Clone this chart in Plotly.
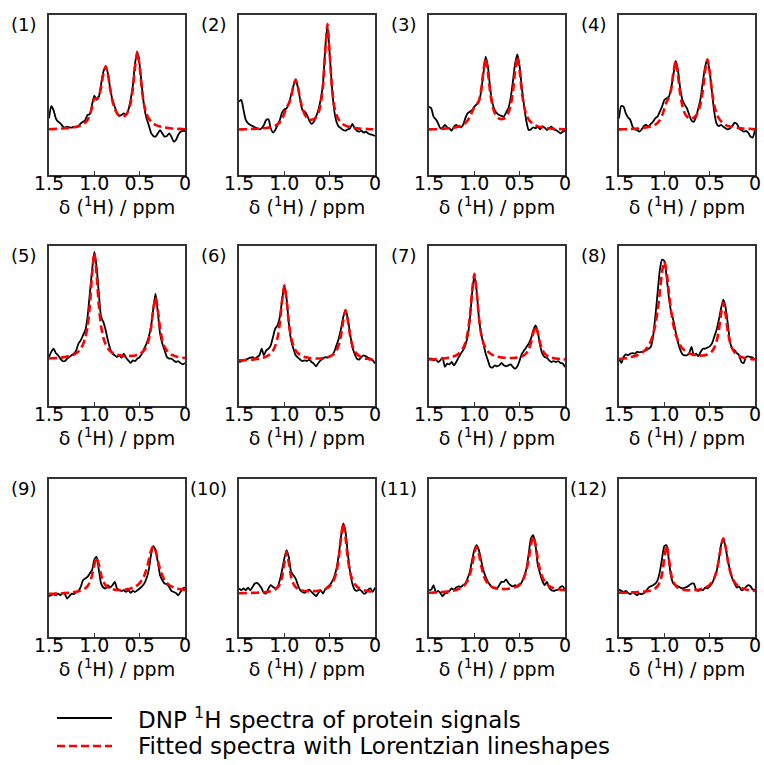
import plotly.graph_objects as go

# chemical shift sampling (ppm), shared by all panels
ppm = [1.5, 1.475, 1.45, 1.425, 1.4, 1.375, 1.35, 1.325, 1.3, 1.275,
       1.25, 1.225, 1.2, 1.175, 1.15, 1.125, 1.1, 1.075, 1.05, 1.025,
       1.0, 0.975, 0.95, 0.925, 0.9, 0.875, 0.85, 0.825, 0.8, 0.775,
       0.75, 0.725, 0.7, 0.675, 0.65, 0.625, 0.6, 0.575, 0.55, 0.525,
       0.5, 0.475, 0.45, 0.425, 0.4, 0.375, 0.35, 0.325, 0.3, 0.275,
       0.25, 0.225, 0.2, 0.175, 0.15, 0.125, 0.1, 0.075, 0.05, 0.025, 0.0]

tick_vals = [1.5, 1.0, 0.5, 0.0]
tick_text = ["1.5", "1.0", "0.5", "0"]
panel_labels = ["(1)", "(2)", "(3)", "(4)", "(5)", "(6)", "(7)", "(8)", "(9)", "(10)", "(11)", "(12)"]
legend_labels = ["DNP <sup>1</sup>H spectra of protein signals", "Fitted spectra with Lorentzian lineshapes"]
x_title = "δ (<sup>1</sup>H) / ppm"

# experimental spectra (normalised intensity, % of panel height)
exp1 = [35.4, 43, 40.6, 35.4, 33.3, 32.3, 30.6, 29.6, 30.2, 29.8,
        29.6, 30.2, 29.8, 30.6, 32.3, 33.3, 34.4, 37.5, 38, 44,
        49.6, 47, 49, 57, 64.6, 67.7, 63.5, 54, 47, 42.7,
        38.5, 36.9, 37.5, 38.5, 37.5, 40.6, 47, 56, 70, 77,
        68.8, 55, 42.7, 35.4, 31.3, 26.5, 24.4, 24, 26, 28,
        26, 24, 24.4, 26, 24, 20.8, 21.9, 25, 27, 27.5, 27.5]
fit1 = [28.6, 28.7, 28.7, 28.8, 28.9, 29.0, 29.1, 29.2, 29.3, 29.4,
        29.6, 29.8, 30.1, 30.5, 31.0, 31.8, 32.8, 34.4, 37.3, 42.4,
        47.6, 47.8, 49.3, 55.0, 63.3, 68.0, 62.8, 53.7, 46.2, 41.5,
        38.6, 37.0, 36.4, 36.6, 37.6, 40.1, 44.9, 53.8, 68.0, 77.3,
        67.6, 53.0, 43.7, 38.4, 35.3, 33.4, 32.2, 31.3, 30.7, 30.3,
        29.9, 29.7, 29.5, 29.3, 29.1, 29.0, 28.9, 28.8, 28.8, 28.7, 28.6]

exp2 = [45.8, 46.9, 40.6, 34.4, 32.3, 31.3, 30.6, 29.8, 29.2, 28.5,
        29.2, 31.3, 34.4, 34.8, 29.2, 26.5, 28.1, 31.3, 34.4, 39,
        41, 41.7, 44.8, 50, 55.6, 59.4, 54.7, 46.9, 40.6, 39.6,
        37.5, 34, 31.9, 33.3, 36.5, 40.6, 46.9, 56.3, 78, 93.8,
        76, 55.2, 40.6, 33.3, 30.2, 29.2, 28.1, 27.7, 28.5, 29.2,
        31.9, 29.2, 27.7, 27.1, 27.7, 26.5, 27.1, 26, 25.4, 25, 24.4]
fit2 = [28.4, 28.5, 28.5, 28.6, 28.6, 28.7, 28.8, 28.8, 28.9, 29.0,
        29.1, 29.3, 29.4, 29.6, 29.9, 30.3, 30.9, 31.7, 32.9, 34.8,
        38.5, 42.4, 44.6, 48.7, 55.6, 59.7, 55.1, 47.3, 41.4, 37.7,
        35.9, 34.8, 34.5, 34.9, 36.2, 38.7, 44.0, 54.8, 76.1, 94.4,
        75.8, 54.3, 43.2, 37.5, 34.6, 32.7, 31.6, 30.9, 30.3, 29.9,
        29.6, 29.4, 29.2, 29.0, 28.9, 28.8, 28.8, 28.7, 28.6, 28.6, 28.5]

exp3 = [42.7, 41.7, 36.5, 34.8, 32.3, 29.2, 29.6, 31.3, 29.8, 29.2,
        27.7, 30.2, 31.3, 30.2, 29.8, 31.3, 35.4, 38.5, 39.6, 40.6,
        42.7, 44.2, 45.8, 52.1, 63.5, 74, 67.7, 54.2, 44.8, 40.6,
        38.5, 37.5, 36.9, 36.5, 39, 41.7, 47.9, 58.3, 69.8, 75.4,
        67.7, 54.2, 42.7, 33.3, 28.1, 28.5, 29.8, 29.2, 30.2, 28.5,
        30.6, 29.6, 28.1, 29.2, 30.2, 28.5, 28.1, 27.1, 26, 27.1, 27.7]
fit3 = [28.5, 28.5, 28.6, 28.6, 28.7, 28.8, 28.9, 29.0, 29.1, 29.2,
        29.4, 29.6, 29.9, 30.3, 30.8, 31.5, 32.4, 34.0, 36.3, 39.5,
        42.4, 43.9, 46.4, 53.1, 64.9, 72.9, 64.1, 51.4, 43.2, 38.8,
        36.4, 35.2, 34.9, 35.3, 36.4, 38.8, 43.3, 51.8, 65.1, 74.0,
        64.9, 51.3, 42.5, 37.6, 34.7, 33.0, 31.8, 31.0, 30.4, 30.0,
        29.7, 29.5, 29.3, 29.1, 29.0, 28.9, 28.8, 28.7, 28.7, 28.6, 28.5]

exp4 = [35.4, 43.1, 42.7, 38.5, 36, 34.4, 30.2, 28.5, 28.1, 27.1,
        28.5, 30.6, 31.3, 30.2, 31.9, 33.3, 35.4, 36.5, 39.6, 42.7,
        46.9, 47.9, 49, 54.2, 62.5, 71.3, 65.6, 54.2, 46.9, 43.8,
        41.7, 37.5, 34, 33.3, 36.5, 41.7, 47.9, 58.3, 67.7, 72.3,
        64.6, 52.1, 39.6, 32.3, 30.6, 31.3, 30.2, 29.2, 28.5, 29.2,
        30.6, 32.7, 31.9, 29.2, 28.1, 27.1, 27.5, 26.5, 24, 23.5, 28.1]
fit4 = [28.5, 28.5, 28.6, 28.6, 28.7, 28.8, 28.8, 28.9, 29.0, 29.1,
        29.3, 29.5, 29.7, 30.0, 30.3, 30.8, 31.5, 32.6, 34.4, 37.1,
        41.4, 45.7, 48.4, 53.6, 64.1, 71.3, 62.8, 50.6, 42.9, 38.6,
        36.4, 35.5, 35.3, 35.9, 37.1, 39.8, 44.6, 52.9, 65.1, 72.3,
        64.8, 52.4, 43.7, 38.6, 35.5, 33.6, 32.3, 31.4, 30.7, 30.3,
        30.0, 29.7, 29.5, 29.3, 29.2, 29.0, 28.9, 28.9, 28.8, 28.7, 28.6]

exp5 = [30.6, 33.8, 35.8, 33.1, 31.7, 29.6, 28.1, 28.1, 29.6, 30.6,
        31.7, 32.7, 34.8, 39, 41, 44.2, 47.3, 55.6, 70.2, 84.8,
        96.3, 86.9, 70.2, 55.6, 52.5, 47.3, 41, 35.8, 32.7, 31.7,
        30.6, 31.7, 30.2, 32.7, 30.2, 28.5, 26.9, 28.5, 28.1, 29.6,
        30.6, 32.7, 35.8, 39, 43.1, 49.4, 60.8, 70.2, 58.8, 45.2,
        39, 34.8, 30.6, 29.6, 29.6, 28.5, 27.5, 28.1, 26.9, 26, 26.9]
fit5 = [29.7, 29.8, 29.9, 30.0, 30.1, 30.2, 30.4, 30.6, 30.9, 31.3,
        31.7, 32.2, 33.0, 34.1, 35.8, 38.4, 42.5, 49.6, 62.4, 82.3,
        95.6, 82.3, 62.5, 49.7, 42.6, 38.5, 36.0, 34.4, 33.3, 32.6,
        32.1, 31.7, 31.5, 31.3, 31.2, 31.2, 31.3, 31.4, 31.6, 32.0,
        32.6, 33.5, 34.9, 37.2, 41.4, 48.8, 60.4, 68.1, 60.3, 48.7,
        41.2, 37.0, 34.6, 33.1, 32.1, 31.5, 31.0, 30.7, 30.4, 30.2, 30.0]

exp6 = [27.5, 27.9, 28.5, 29, 29.6, 30.2, 30.6, 29.6, 30.6, 31.7,
        35.8, 31.7, 34.8, 35.8, 37.9, 43.1, 48.3, 50.4, 55.6, 66,
        75.4, 67.1, 51.5, 41, 35.8, 31.7, 30.2, 29, 28.1, 28.5,
        28.1, 29, 27.5, 26.5, 24.8, 26.9, 28.5, 29.6, 30.6, 30.2,
        31, 31.7, 33.8, 37.9, 42.1, 48.3, 55.6, 60.2, 54.6, 45.2,
        36.9, 32.7, 29.6, 29, 30.6, 31.7, 31, 30.2, 29.6, 28.5, 26.5]
fit6 = [28.5, 28.5, 28.6, 28.7, 28.8, 28.9, 29.0, 29.2, 29.4, 29.6,
        29.9, 30.3, 30.9, 31.7, 32.8, 34.6, 37.6, 42.6, 51.7, 65.9,
        75.4, 66.0, 51.8, 42.7, 37.7, 34.7, 33.0, 31.9, 31.1, 30.6,
        30.3, 30.0, 29.8, 29.7, 29.7, 29.7, 29.7, 29.9, 30.1, 30.4,
        30.9, 31.6, 32.7, 34.7, 38.0, 44.1, 53.5, 59.8, 53.4, 44.0,
        37.9, 34.5, 32.5, 31.3, 30.5, 30.0, 29.6, 29.4, 29.1, 29.0, 28.8]

exp7 = [29.6, 29.6, 28.5, 29, 27.5, 28.5, 30.2, 24.4, 26.5, 26,
        27.5, 25.4, 27.5, 30.2, 32.7, 34.8, 37.9, 43.1, 53.5, 70.2,
        81.7, 72.3, 55.6, 45.2, 39, 32.7, 28.5, 24.4, 24, 25.4,
        24.8, 25.4, 26.9, 25.4, 24.8, 25.4, 26, 24.4, 23.3, 24.8,
        28.5, 32.7, 34.8, 36.9, 39, 42.1, 47.3, 50.4, 46.3, 37.9,
        32.7, 30.6, 30.2, 28.5, 27.5, 28.1, 27.5, 28.1, 26.9, 26.5, 24.4]
fit7 = [29.1, 29.1, 29.2, 29.3, 29.4, 29.5, 29.6, 29.8, 30.0, 30.3,
        30.6, 31.1, 31.7, 32.7, 34.0, 36.0, 39.4, 45.2, 55.6, 71.8,
        82.6, 71.8, 55.6, 45.2, 39.4, 36.1, 34.1, 32.8, 31.9, 31.3,
        30.9, 30.6, 30.3, 30.2, 30.1, 30.0, 30.0, 30.0, 30.2, 30.3,
        30.6, 31.1, 31.8, 33.1, 35.4, 39.4, 45.6, 49.8, 45.6, 39.3,
        35.2, 32.9, 31.6, 30.8, 30.3, 29.9, 29.7, 29.5, 29.3, 29.2, 29.1]

exp8 = [29.6, 26.9, 30.6, 32.3, 31.7, 32.7, 33.1, 32.7, 33.8, 33.5,
        33.8, 34.2, 34.8, 35.8, 36.9, 43.1, 55.6, 70.2, 84.8, 91.5,
        90.6, 80.6, 68.1, 58.8, 53.5, 46.3, 40, 35.2, 32.3, 31.7,
        31.7, 33.1, 36.9, 31.7, 32.7, 31, 33.8, 35.8, 35.8, 36.5,
        37.3, 39, 43.1, 47.3, 53.5, 60.8, 66.5, 61.9, 51.5, 40,
        35.8, 34.8, 33.1, 31.7, 27.5, 26.9, 30.6, 31, 30.6, 30.2, 29]
fit8 = [29.4, 29.5, 29.7, 29.9, 30.2, 30.5, 30.8, 31.2, 31.7, 32.4,
        33.2, 34.3, 35.7, 37.7, 40.5, 44.5, 50.4, 59.2, 71.0, 83.9,
        90.1, 83.9, 71.0, 59.3, 50.6, 44.7, 40.8, 38.0, 36.0, 34.7,
        33.7, 32.9, 32.4, 32.0, 31.7, 31.5, 31.5, 31.6, 31.8, 32.2,
        32.9, 34.2, 36.3, 40.0, 46.8, 57.5, 64.5, 57.4, 46.6, 39.7,
        35.8, 33.5, 32.1, 31.2, 30.6, 30.1, 29.8, 29.5, 29.4, 29.2, 29.1]

exp9 = [25.8, 26.4, 27.1, 26.4, 27.5, 26.4, 27.9, 27.1, 24.3, 25.8,
        27.5, 27.1, 28.5, 29.2, 31.7, 35.9, 37, 38, 40.2, 42.3,
        49, 50.7, 42.3, 33.8, 31.3, 30.7, 32.8, 31.3, 32.8, 34.9,
        30.7, 29.6, 29.2, 29.6, 28.5, 29.6, 27.9, 29.2, 28.5, 29.6,
        30.7, 32.1, 33.8, 37, 42.3, 51.8, 57.5, 55, 47.6, 39.1,
        35.9, 33.8, 33.4, 31.7, 29.2, 28.5, 27.9, 26.4, 28.5, 30.7, 31.3]
fit9 = [27.3, 27.35, 27.4, 27.5, 27.6, 27.65, 27.7, 27.8, 27.9, 28.0,
        28.2, 28.4, 28.6, 28.9, 29.3, 29.9, 30.8, 32.2, 34.7, 39.0,
        45.7, 50.2, 45.8, 39.2, 35.0, 32.7, 31.4, 30.6, 30.2, 29.9,
        29.8, 29.8, 29.8, 29.9, 30.1, 30.3, 30.7, 31.2, 31.9, 32.8,
        34.1, 36.0, 38.8, 42.9, 48.5, 54.6, 57.5, 54.6, 48.5, 42.9,
        38.9, 36.1, 34.2, 32.9, 32.0, 31.4, 30.9, 30.5, 30.2, 30.0, 29.8]

exp10 = [30.7, 29.6, 30.7, 29.6, 31.3, 29.6, 31.7, 33.8, 34.2, 32.8,
         30.7, 27.9, 27.5, 30.7, 32.8, 31.7, 30.7, 31.7, 35.9, 42.3,
         49.7, 55, 50.3, 41.2, 39.1, 37, 32.8, 29.6, 28.5, 27.9,
         29.2, 30, 28.5, 27.1, 25.8, 27.9, 29.6, 27.5, 30, 31.7,
         32.8, 34.9, 38.1, 43.3, 51.8, 63.4, 71.9, 66.6, 52.9, 41.2,
         33.8, 30, 29.2, 30, 29.2, 27.5, 27.9, 30, 30.7, 28.5, 31.3]
fit10 = [27.7, 27.7, 27.8, 27.8, 27.8, 27.9, 27.9, 28.0, 28.0, 28.1,
         28.2, 28.3, 28.5, 28.7, 29.0, 29.4, 30.1, 31.3, 33.5, 37.9,
         46.6, 53.9, 46.6, 38.0, 33.7, 31.5, 30.4, 29.7, 29.4, 29.1,
         29.0, 28.9, 28.9, 29.0, 29.1, 29.3, 29.5, 29.8, 30.3, 31.1,
         32.1, 33.8, 36.5, 41.2, 49.8, 63.0, 71.9, 63.0, 49.7, 41.2,
         36.4, 33.7, 32.0, 30.9, 30.2, 29.6, 29.3, 29.0, 28.8, 28.6, 28.4]

exp11 = [29.6, 30, 32.8, 28.5, 29.2, 27.9, 25.8, 27.5, 27.9, 29.2,
         30.7, 30, 31.3, 32.1, 31.7, 32.8, 33.8, 37, 41.2, 48.6,
         55, 58.1, 55, 48.6, 42.3, 38.1, 34.9, 32.8, 31.3, 30.7,
         30.7, 32.8, 34.9, 34.9, 36.4, 34.2, 32.8, 32.1, 32.8, 31.7,
         32.8, 34.9, 38.5, 43.3, 52.9, 62.4, 64.5, 58.1, 45.5, 40.2,
         35.5, 32.8, 34.9, 31.3, 29.6, 29.2, 29.6, 30, 31.7, 32.1, 29.6]
fit11 = [28.0, 28.05, 28.1, 28.2, 28.3, 28.4, 28.5, 28.6, 28.7, 28.9,
         29.1, 29.4, 29.8, 30.3, 31.0, 32.0, 33.4, 35.7, 39.3, 45.2,
         52.7, 57.1, 52.8, 45.3, 39.6, 36.0, 33.8, 32.5, 31.6, 31.1,
         30.7, 30.5, 30.4, 30.3, 30.4, 30.5, 30.7, 31.1, 31.6, 32.4,
         33.5, 35.2, 37.9, 42.3, 49.3, 58.6, 63.8, 58.6, 49.3, 42.3,
         37.9, 35.1, 33.4, 32.3, 31.5, 30.9, 30.5, 30.2, 29.9, 29.8, 29.6]

exp12 = [30, 29.2, 28.5, 29.2, 27.9, 27.1, 28.5, 27.5, 26.4, 27.5,
         27.1, 27.9, 29.2, 31.3, 32.1, 32.8, 33.8, 35.9, 41.2, 49.7,
         57.5, 58.1, 48.6, 38.1, 33.8, 32.8, 32.1, 31.3, 30.7, 31.3,
         31.7, 32.8, 33.8, 33.8, 30, 29.2, 30, 29.6, 31.3, 30.7,
         32.1, 33.8, 37, 41.2, 48.6, 58.1, 62.4, 57.1, 48.6, 42.3,
         37, 33.8, 31.3, 32.1, 29.6, 30, 31.7, 32.8, 32.1, 30, 30]
fit12 = [28.0, 28.0, 28.0, 28.05, 28.1, 28.15, 28.2, 28.3, 28.4, 28.5,
         28.6, 28.7, 28.9, 29.1, 29.5, 30.0, 30.8, 32.2, 34.7, 39.8,
         49.7, 58.1, 49.7, 39.9, 34.9, 32.5, 31.2, 30.4, 30.0, 29.8,
         29.6, 29.6, 29.6, 29.6, 29.8, 29.9, 30.2, 30.6, 31.1, 31.9,
         33.0, 34.6, 37.3, 41.5, 48.4, 57.3, 62.4, 57.3, 48.4, 41.5,
         37.3, 34.6, 32.9, 31.8, 31.0, 30.5, 30.1, 29.8, 29.6, 29.4, 29.2]

exp_series = [exp1, exp2, exp3, exp4, exp5, exp6, exp7, exp8, exp9, exp10, exp11, exp12]
fit_series = [fit1, fit2, fit3, fit4, fit5, fit6, fit7, fit8, fit9, fit10, fit11, fit12]

# ---------------- layout geometry (pixels) ----------------
W, H = 764, 765
col_left = [49, 239, 429, 619]
col_w = 136
row_top = [15, 246, 479]
row_bot = [175, 406, 637]

FONT = "DejaVu Sans, Verdana, sans-serif"
FS_TICK = 19
FS_TITLE = 19
FS_LABEL = 18
FS_LEG = 23
FRAME = "#333333"

fig = go.Figure()
layout = dict(
    width=W, height=H,
    margin=dict(l=0, r=0, t=0, b=0, pad=0, autoexpand=False),
    paper_bgcolor="white", plot_bgcolor="white", showlegend=False,
    font=dict(family=FONT, size=FS_TICK, color="black"),
)
annotations = []
shapes = []

for k in range(12):
    r, c = divmod(k, 4)
    xa = "xaxis" if k == 0 else f"xaxis{k+1}"
    ya = "yaxis" if k == 0 else f"yaxis{k+1}"
    xr = "x" if k == 0 else f"x{k+1}"
    yr = "y" if k == 0 else f"y{k+1}"
    x0 = col_left[c] / W
    x1 = (col_left[c] + col_w) / W
    y0 = 1 - row_bot[r] / H
    y1 = 1 - row_top[r] / H
    layout[xa] = dict(
        domain=[x0, x1], anchor=yr, range=[1.5, 0], autorange=False,
        tickvals=tick_vals, ticktext=tick_text, ticks="inside", ticklen=4,
        tickwidth=1.3, tickcolor=FRAME, showline=True, mirror=True,
        linecolor=FRAME, linewidth=1.6, showgrid=False, zeroline=False,
        automargin=False, ticklabelstandoff=-9,
        tickfont=dict(family=FONT, size=FS_TICK, color="black"),
        title=dict(text=x_title, font=dict(family=FONT, size=FS_TITLE, color="black"), standoff=0),
    )
    layout[ya] = dict(
        domain=[y0, y1], anchor=xr, range=[0, 100], autorange=False,
        showticklabels=False, ticks="", showline=True, mirror=True,
        linecolor=FRAME, linewidth=1.6, showgrid=False, zeroline=False,
        automargin=False,
    )
    fig.add_trace(go.Scatter(
        x=ppm, y=exp_series[k], xaxis=xr, yaxis=yr, mode="lines",
        line=dict(color="black", width=1.8, shape="spline", smoothing=0.6),
        name="DNP 1H spectra of protein signals", hoverinfo="skip"))
    fig.add_trace(go.Scatter(
        x=ppm, y=fit_series[k], xaxis=xr, yaxis=yr, mode="lines",
        line=dict(color="#ff0000", width=2.6, dash="8px,4px", shape="spline", smoothing=0.6),
        name="Fitted spectra with Lorentzian lineshapes", hoverinfo="skip"))
    annotations.append(dict(
        text=panel_labels[k], xref="paper", yref="paper",
        x=(col_left[c] - 10) / W, y=1 - (row_top[r] + 10) / H,
        xanchor="right", yanchor="middle", showarrow=False,
        font=dict(family=FONT, size=FS_LABEL, color="black")))

# legend (drawn manually to match the long sample lines)
leg_y = [718, 746]
leg_color = ["black", "#ff0000"]
leg_dash = ["solid", "8px,4px"]
leg_width = [2.2, 2.6]
for j in range(2):
    yy = 1 - leg_y[j] / H
    shapes.append(dict(type="line", xref="paper", yref="paper",
                       x0=57 / W, x1=112 / W, y0=yy, y1=yy,
                       line=dict(color=leg_color[j], width=leg_width[j], dash=leg_dash[j])))
    annotations.append(dict(text=legend_labels[j], xref="paper", yref="paper",
                            x=136 / W, y=yy, xanchor="left", yanchor="middle",
                            showarrow=False, font=dict(family=FONT, size=FS_LEG, color="black")))

layout["annotations"] = annotations
layout["shapes"] = shapes
fig.update_layout(**layout)
fig.write_html("out.html", config={"displayModeBar": False, "staticPlot": True},
               post_script="document.body.style.margin='0px';document.body.style.padding='0px';")
